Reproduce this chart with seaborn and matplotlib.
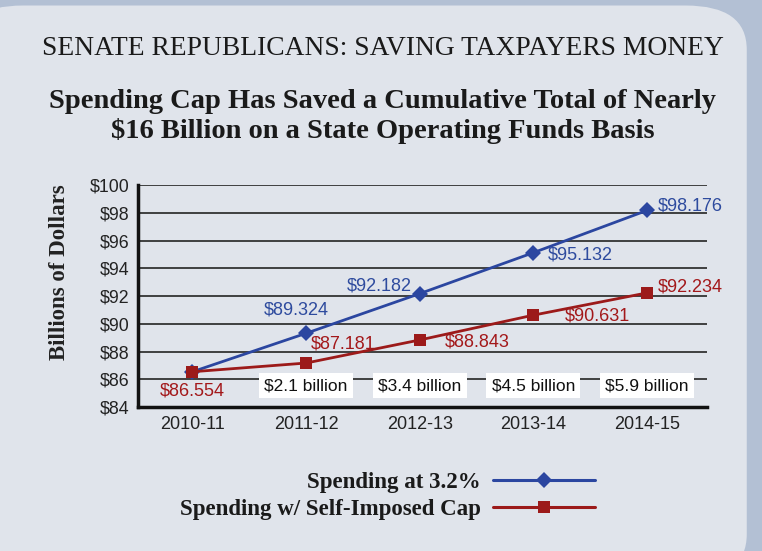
import numpy as np
import pandas as pd
import matplotlib
matplotlib.use("Agg")
import matplotlib.pyplot as plt
import seaborn as sns
from matplotlib.patches import FancyBboxPatch
from matplotlib.lines import Line2D

# --- DATA ---
YEARS = ['2010-11', '2011-12', '2012-13', '2013-14', '2014-15']
SPEND_32 = [86.554, 89.324, 92.182, 95.132, 98.176]
SPEND_CAP = [86.554, 87.181, 88.843, 90.631, 92.234]
SAVINGS = ['$2.1 billion', '$3.4 billion', '$4.5 billion', '$5.9 billion']
SERIES = ['Spending at 3.2%', 'Spending w/ Self-Imposed Cap']

BLUE = '#2b46a0'
RED = '#9c1a1a'
BG = '#e0e4eb'

df = pd.DataFrame({
    'idx': list(range(len(YEARS))) * 2,
    'value': SPEND_32 + SPEND_CAP,
    'series': [SERIES[0]] * len(YEARS) + [SERIES[1]] * len(YEARS),
})

sns.set_style('white')
plt.rcParams['font.family'] = ['Liberation Sans', 'DejaVu Sans']

fig = plt.figure(figsize=(7.62, 5.51), dpi=100)
fig.patch.set_facecolor('#b3c0d4')
panel = FancyBboxPatch((-0.05, -0.05), 1.03, 1.04, transform=fig.transFigure,
                       boxstyle='round,pad=0,rounding_size=0.08',
                       facecolor=BG, edgecolor='none', zorder=-10)
fig.patches.append(panel)

ax = fig.add_axes([0.181, 0.261, 0.747, 0.403])
ax.set_facecolor('none')

sns.lineplot(data=df, x='idx', y='value', hue='series', style='series',
             palette=[BLUE, RED], markers=['D', 's'], dashes=False,
             linewidth=2.0, markersize=8, markeredgewidth=0,
             legend=False, ax=ax, zorder=5)

ax.set_xlim(-0.48, 4.53)
ax.set_ylim(84, 100)
ax.set_yticks(np.arange(84, 101, 2))
ax.set_yticklabels([f'${v}' for v in range(84, 101, 2)], fontsize=12.8, color='#222222')
ax.set_xticks(range(len(YEARS)))
ax.set_xticklabels(YEARS, fontsize=13, color='#222222')
ax.tick_params(axis='both', length=0, pad=6)
for y in range(86, 101, 2):
    ax.axhline(y, color='#333333', lw=1.3, zorder=1)
for s in ['top', 'right']:
    ax.spines[s].set_visible(False)
for s in ['left', 'bottom']:
    ax.spines[s].set_linewidth(2.5)
    ax.spines[s].set_color('#111111')
ax.set_xlabel('')
ax.set_ylabel('Billions of Dollars', family='Liberation Serif', fontweight='bold',
              fontsize=16.5, color='#222222')
ax.yaxis.set_label_coords(-0.12, 0.61)

# data labels (offsets in pixels)
blue_off = [None, (-10, 23), (-40, 8), (47, -2), (43, 4)]
red_off = [(0, -19), (37, 19), (58, -2), (64, -1), (43, 6)]
for i, (v, off) in enumerate(zip(SPEND_32, blue_off)):
    if off is None:
        continue
    ax.annotate(f'${v:.3f}', (i, v), xytext=off, textcoords='offset pixels',
                ha='center', va='center', fontsize=13, color='#2e4b9e')
for i, (v, off) in enumerate(zip(SPEND_CAP, red_off)):
    ax.annotate(f'${v:.3f}', (i, v), xytext=off, textcoords='offset pixels',
                ha='center', va='center', fontsize=13, color='#a3181a')

# savings boxes
for i, lab in enumerate(SAVINGS, start=1):
    ax.text(i, 85.55, lab, ha='center', va='center', fontsize=12.5, color='#111111',
            zorder=6, bbox=dict(boxstyle='square,pad=0.3', facecolor='white', edgecolor='none'))

# titles
fig.text(0.502, 0.912, 'SENATE REPUBLICANS: SAVING TAXPAYERS MONEY', ha='center', va='center',
         family='Liberation Serif', fontsize=19.8, color='#1a1a1a')
fig.text(0.502, 0.789, 'Spending Cap Has Saved a Cumulative Total of Nearly\n$16 Billion on a State Operating Funds Basis',
         ha='center', va='center', family='Liberation Serif', fontweight='bold',
         fontsize=20.5, color='#1a1a1a', linespacing=1.18)

# legend: two single-entry legends so text is right aligned
handles = [Line2D([0], [0], color=BLUE, lw=2.2, marker='D', markersize=8, markeredgewidth=0),
           Line2D([0], [0], color=RED, lw=2.2, marker='s', markersize=8, markeredgewidth=0)]
for h, lab, yy in zip(handles, SERIES, [0.1235, 0.0755]):
    leg = fig.legend([h], [lab], loc='center right', bbox_to_anchor=(0.781, yy),
                     markerfirst=False, frameon=False, handlelength=4.45,
                     handletextpad=0.55, borderpad=0, borderaxespad=0,
                     prop={'family': 'Liberation Serif', 'weight': 'bold', 'size': 16.5})
    for t in leg.get_texts():
        t.set_color('#1a1a1a')

fig.savefig('out.png', dpi=100, facecolor=fig.get_facecolor())
